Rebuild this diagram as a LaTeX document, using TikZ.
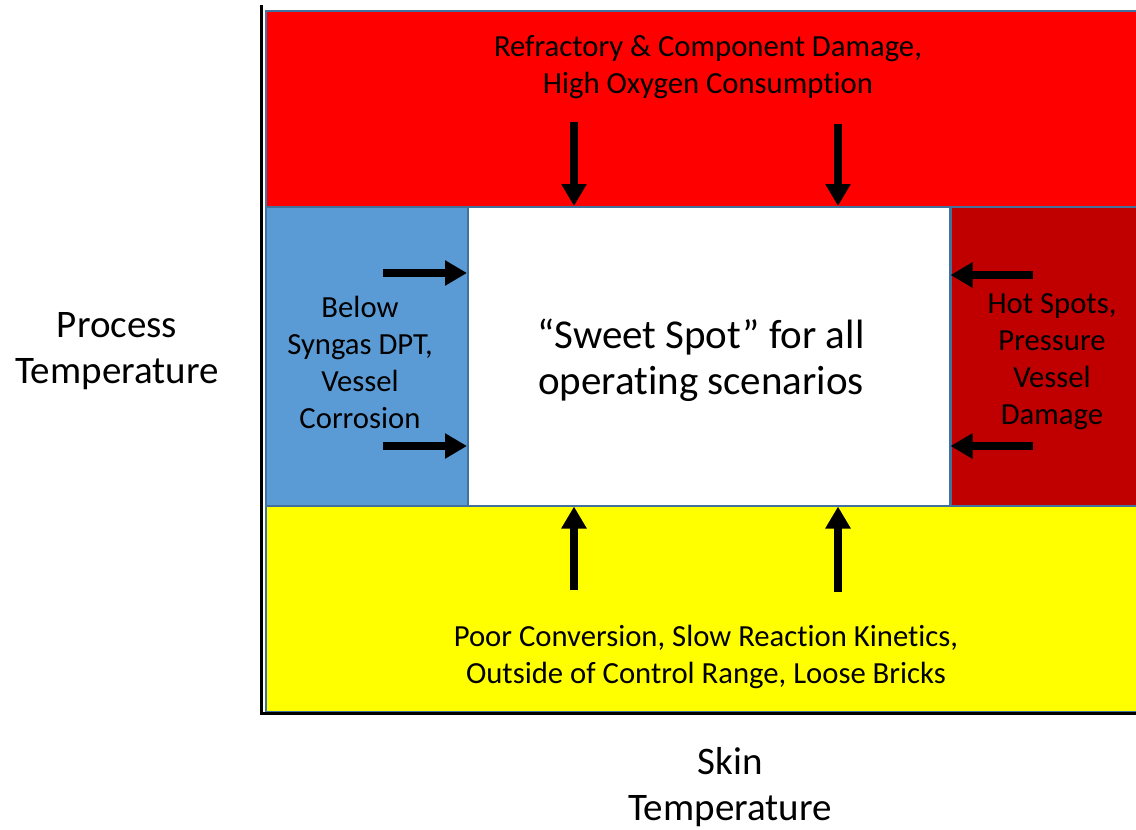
\documentclass[tikz,border=0pt]{standalone}
\usepackage{fontspec}
\setmainfont{Carlito}[Ligatures=NoCommon]
\usetikzlibrary{arrows.meta}
\definecolor{zonered}{HTML}{FF0000}
\definecolor{zoneblue}{HTML}{5B9BD5}
\definecolor{zonedark}{HTML}{C00000}
\definecolor{zoneyellow}{HTML}{FFFF00}
\definecolor{edgeblue}{HTML}{41719C}
\tikzset{
  zone/.style={draw=edgeblue, line width=1.5pt, rectangle, inner sep=0pt, anchor=north west},
  push/.style={line width=8pt, -{Triangle[width=24pt,length=22pt]}},
  lbl/.style={align=center, font=\fontsize{30.7}{37}\selectfont, inner sep=0pt},
  axislbl/.style={align=center, font=\fontsize{39}{46}\selectfont, inner sep=0pt},
  axisline/.style={line width=3pt, black}
}
\begin{document}
\begin{tikzpicture}[x=1pt,y=-1pt]
\useasboundingbox (0,0) rectangle (1136,830);
% zones
\node[zone, fill=zonered, minimum width=872pt, minimum height=196pt] (top) at (265,10) {};
\node[zone, fill=zoneblue, minimum width=202pt, minimum height=299pt] (left) at (265,206) {};
\node[zone, fill=white, minimum width=482pt, minimum height=299pt] (sweet) at (467,206) {};
\node[zone, fill=zonedark, minimum width=187pt, minimum height=299pt] (right) at (950,206) {};
\node[zone, fill=zoneyellow, minimum width=872pt, minimum height=206pt] (bottom) at (265,505) {};
% axes
\coordinate (origin) at (261,713);
\coordinate (ytop) at (261,5);
\coordinate (xend) at (1136,713);
\draw[axisline] (ytop) -- (origin) -- (xend);
% texts
\node[lbl] (toptext) at (708,67) {Refractory \& Component Damage,\\High Oxygen Consumption};
\node[lbl] (lefttext) at (360,362) {Below\\Syngas DPT,\\Vessel\\Corrosion};
\node[lbl] (righttext) at (1052,362) {Hot Spots,\\Pressure\\Vessel\\Damage};
\node[lbl] (bottomtext) at (706,657) {Poor Conversion, Slow Reaction Kinetics,\\Outside of Control Range, Loose Bricks};
\node[align=center, font=\fontsize{41}{46}\selectfont, inner sep=0pt] (sweettext) at (701,360) {“Sweet Spot” for all\\operating scenarios};
\node[axislbl] (ylabel) at (117,351) {Process\\Temperature};
\node[axislbl] (xlabel) at (730,787) {Skin\\Temperature};
% arrows
\coordinate (t1) at (574,122);
\coordinate (t2) at (838,124);
\coordinate (b1) at (574,590);
\coordinate (b2) at (838,592);
\coordinate (l1) at (383,273);
\coordinate (l2) at (383,446);
\coordinate (r1) at (1033,275);
\coordinate (r2) at (1033,446);
\draw[push] (t1) -- (t1 |- sweet.north);
\draw[push] (t2) -- (t2 |- sweet.north);
\draw[push] (b1) -- (b1 |- sweet.south);
\draw[push] (b2) -- (b2 |- sweet.south);
\draw[push] (l1) -- (l1 -| sweet.west);
\draw[push] (l2) -- (l2 -| sweet.west);
\draw[push] (r1) -- (r1 -| sweet.east);
\draw[push] (r2) -- (r2 -| sweet.east);
\end{tikzpicture}
\end{document}
